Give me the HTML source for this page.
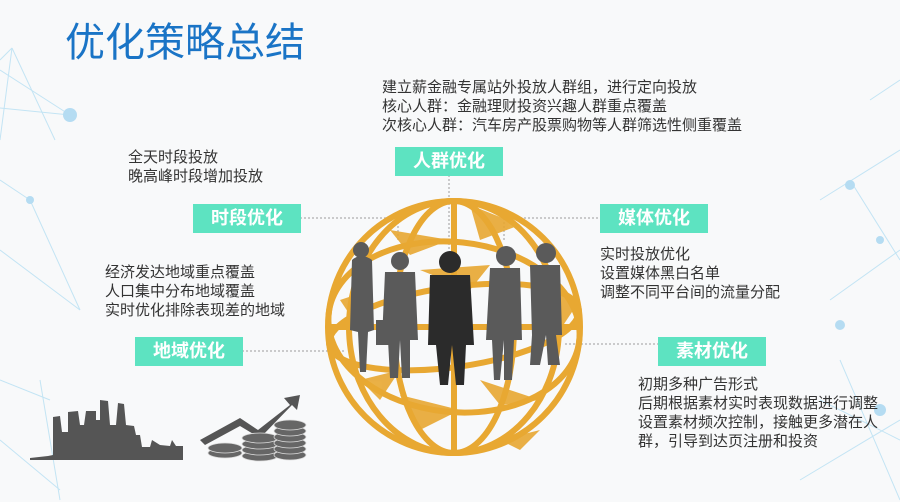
<!DOCTYPE html>
<html><head><meta charset="utf-8"><style>
html,body{margin:0;padding:0}
body{width:900px;height:502px;position:relative;overflow:hidden;background:#f8f9fa;font-family:"Liberation Sans","Noto Sans CJK SC",sans-serif}
.t{position:absolute;font-size:15px;line-height:19px;color:#333;white-space:nowrap}
.b{position:absolute;background:#5de3c1;color:#fff;font-weight:bold;font-size:18px;text-align:center;line-height:29px;height:29px;width:108px}
h1{position:absolute;left:65px;top:10px;margin:0;font-size:40px;font-weight:normal;color:#1a74c6}
</style></head><body>
<svg width="900" height="502" style="position:absolute;left:0;top:0">
<g stroke="#c3e4f4" stroke-width="1" fill="none">
<line x1="0" y1="60" x2="12" y2="48"/><line x1="12" y1="48" x2="0" y2="140"/><line x1="0" y1="70" x2="70" y2="115"/><line x1="12" y1="48" x2="55" y2="140"/><line x1="0" y1="108" x2="70" y2="115"/>
<line x1="0" y1="180" x2="30" y2="200"/><line x1="30" y1="200" x2="80" y2="310"/><line x1="0" y1="250" x2="80" y2="310"/>
<line x1="0" y1="380" x2="50" y2="400"/><line x1="40" y1="380" x2="60" y2="500"/><line x1="0" y1="440" x2="60" y2="490"/>
<line x1="820" y1="200" x2="900" y2="150"/><line x1="850" y1="180" x2="900" y2="260"/><line x1="830" y1="300" x2="900" y2="250"/><line x1="870" y1="100" x2="900" y2="80"/>
<line x1="820" y1="400" x2="900" y2="440"/><line x1="840" y1="360" x2="900" y2="500"/><line x1="800" y1="480" x2="900" y2="420"/>
</g>
<g fill="#b5dcf2"><circle cx="70" cy="115" r="7"/><circle cx="850" cy="185" r="5"/><circle cx="880" cy="240" r="4"/><circle cx="840" cy="325" r="5"/><circle cx="880" cy="410" r="6"/><circle cx="30" cy="200" r="4"/></g>
<g stroke="#bbb" stroke-width="1.5" stroke-dasharray="2,2" fill="none">
<line x1="449" y1="175" x2="449" y2="250"/><line x1="300" y1="218" x2="398" y2="218"/><line x1="398" y1="218" x2="398" y2="242"/>
<line x1="504" y1="218" x2="600" y2="218"/><line x1="504" y1="218" x2="504" y2="242"/>
<line x1="242" y1="351" x2="345" y2="351"/><line x1="565" y1="344" x2="658" y2="344"/>
</g>
<g transform="translate(454,327)" fill="none" stroke="#e8a832" stroke-width="6">
<circle r="126"/>
<ellipse rx="60" ry="126"/><ellipse rx="105" ry="126"/>
<ellipse rx="126" ry="40" transform="rotate(-8)"/><ellipse rx="126" ry="85" transform="rotate(6)"/>
<line x1="-126" y1="0" x2="126" y2="0"/><line x1="0" y1="-126" x2="0" y2="126"/>
</g>
<g fill="#e8a832" opacity="0.9">
<polygon points="390,230 450,240 410,255"/><polygon points="470,205 520,225 480,240"/><polygon points="400,395 460,410 420,430"/><polygon points="480,380 540,400 500,405"/><polygon points="340,300 370,290 360,330"/><polygon points="540,290 580,300 560,330"/><polygon points="420,270 490,265 470,290"/><polygon points="360,380 400,370 380,400"/><polygon points="500,440 540,430 520,450"/>
</g>
<g fill="#5a5a5a">
<path d="M352,260 Q361,252 372,260 L374,330 L368,332 L366,372 L360,372 L358,332 L350,330Z"/><circle cx="361" cy="250" r="8"/>
<path d="M385,272 L415,272 L418,340 L410,340 L410,378 L402,378 L400,340 L398,378 L390,378 L388,340 L382,340Z"/><circle cx="400" cy="261" r="9"/><rect x="376" y="320" width="18" height="25"/>
<path d="M490,268 L520,268 L522,340 L514,340 L512,380 L504,380 L504,340 L500,380 L494,380 L492,340 L486,340Z"/><circle cx="506" cy="256" r="10"/>
<path d="M530,265 L560,265 L562,335 L556,335 L560,365 L548,365 L546,335 L540,365 L530,365 L532,335Z"/><circle cx="546" cy="253" r="10"/>
</g>
<g fill="#2b2b2b"><path d="M430,275 L470,275 L474,345 L466,345 L464,385 L456,385 L452,345 L448,385 L440,385 L436,345 L428,345Z"/><circle cx="450" cy="262" r="11"/></g>
<path d="M30,458 L48,456 L53,455 L53,417 L60,416 L62,432 L68,432 L68,412 L78,411 L80,425 L84,425 L86,411 L96,411 L96,420 L100,420 L100,400 L108,401 L110,425 L116,425 L118,403 L124,404 L126,425 L134,426 L136,435 L140,435 L142,447 L150,447 L152,440 L160,445 L170,446 L172,440 L176,446 L183,446 L183,460 L30,460Z" fill="#555"/>
<path d="M200,440 L240,418 L258,430 L290,405 L284,398 L300,395 L297,410 L292,405 L260,438 L240,426 L205,445Z" fill="#555"/>
<g fill="#666" stroke="#ddd" stroke-width="0.8">
<ellipse cx="225" cy="453" rx="17" ry="5"/><ellipse cx="225" cy="448" rx="17" ry="5"/>
<ellipse cx="260" cy="456" rx="18" ry="5"/><ellipse cx="260" cy="450" rx="18" ry="5"/><ellipse cx="260" cy="444" rx="18" ry="5"/><ellipse cx="260" cy="438" rx="18" ry="5"/>
<ellipse cx="290" cy="455" rx="16" ry="5"/><ellipse cx="290" cy="449" rx="16" ry="5"/><ellipse cx="290" cy="443" rx="16" ry="5"/><ellipse cx="290" cy="437" rx="16" ry="5"/><ellipse cx="290" cy="431" rx="16" ry="5"/><ellipse cx="290" cy="425" rx="16" ry="5"/>
</g>
</svg>
<h1>优化策略总结</h1>
<div class="b" style="left:395px;top:147px">人群优化</div>
<div class="b" style="left:193px;top:204px">时段优化</div>
<div class="b" style="left:600px;top:204px">媒体优化</div>
<div class="b" style="left:135px;top:337px">地域优化</div>
<div class="b" style="left:658px;top:337px">素材优化</div>
<div class="t" style="left:382px;top:78px">建立薪金融专属站外投放人群组，进行定向投放<br>核心人群：金融理财投资兴趣人群重点覆盖<br>次核心人群：汽车房产股票购物等人群筛选性侧重覆盖</div>
<div class="t" style="left:128px;top:148px">全天时段投放<br>晚高峰时段增加投放</div>
<div class="t" style="left:105px;top:263px">经济发达地域重点覆盖<br>人口集中分布地域覆盖<br>实时优化排除表现差的地域</div>
<div class="t" style="left:600px;top:245px">实时投放优化<br>设置媒体黑白名单<br>调整不同平台间的流量分配</div>
<div class="t" style="left:638px;top:375px">初期多种广告形式<br>后期根据素材实时表现数据进行调整<br>设置素材频次控制，接触更多潜在人<br>群，引导到达页注册和投资</div>
</body></html>
